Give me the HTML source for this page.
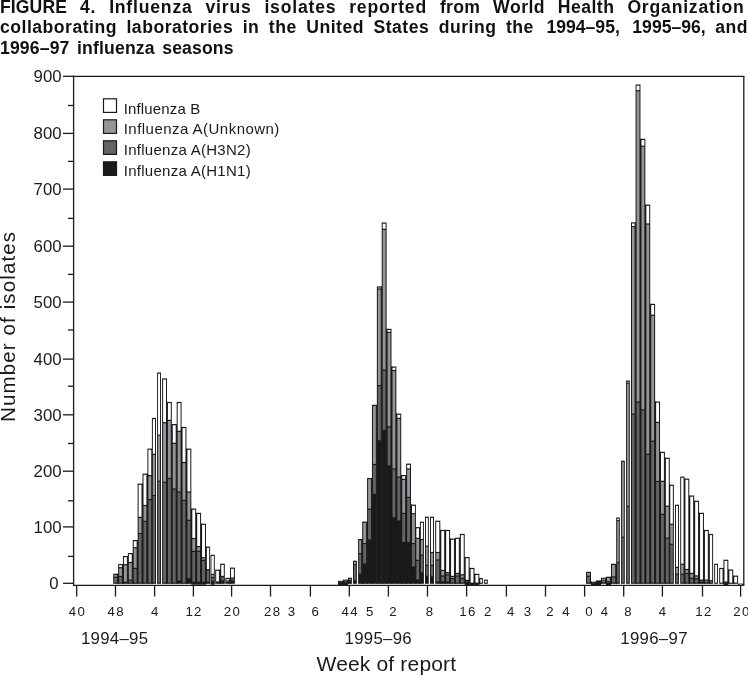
<!DOCTYPE html>
<html lang="en">
<head>
<meta charset="utf-8">
<title>FIGURE 4. Influenza virus isolates</title>
<style>
html,body{margin:0;padding:0;background:#fff;}
body{width:748px;height:676px;overflow:hidden;position:relative;font-family:"Liberation Sans",Arial,Helvetica,sans-serif;color:#1a1a1c;}
.t{position:absolute;left:0;width:748px;font-weight:bold;font-size:17.6px;line-height:20.4px;height:20.4px;white-space:nowrap;color:#111;letter-spacing:0.38px;}
.nm{letter-spacing:0;display:inline-block;margin-left:3px;}
.j{text-align:justify;text-align-last:justify;white-space:normal;}
svg{position:absolute;left:0;top:0;}
svg text{font-family:"Liberation Sans",Arial,Helvetica,sans-serif;fill:#1a1a1c;}
.yl{font-size:16.8px;}
.xl{font-size:12px;letter-spacing:1.25px;}
.sl{font-size:16.8px;letter-spacing:0.3px;}
.wl{font-size:21px;letter-spacing:0.17px;}
.nl{font-size:20.5px;letter-spacing:1.13px;}
.lg{font-size:15px;letter-spacing:0.4px;}
</style>
</head>
<body>
<div class="t j" style="top:-3.2px;letter-spacing:0.8px;width:744.5px;"><span style="letter-spacing:0.1px">FIGURE</span> 4. Influenza virus isolates reported <span style="letter-spacing:0.3px">from</span> <span style="letter-spacing:0.5px">World Health</span> Organization</div>
<div class="t j" style="top:17.3px;width:748px;letter-spacing:0.5px;">collaborating laboratories in the United States during the <span class="nm">1994–95,</span> <span class="nm">1995–96,</span> and</div>
<div class="t" style="top:37.7px;letter-spacing:0.15px;word-spacing:2.5px;">1996–97 influenza seasons</div>
<svg width="748" height="676" viewBox="0 0 748 676">
<g shape-rendering="geometricPrecision">
<rect x="113.21" y="573.70" width="4.88" height="10.10" fill="#1a1a1c"/>
<rect x="117.60" y="573.70" width="1.50" height="10.10" fill="#1a1a1c"/>
<rect x="114.21" y="574.90" width="2.88" height="1.80" fill="#939598"/>
<rect x="114.21" y="577.90" width="2.88" height="4.70" fill="#636466"/>
<rect x="118.10" y="564.10" width="4.88" height="19.70" fill="#1a1a1c"/>
<rect x="122.48" y="564.10" width="1.50" height="19.70" fill="#1a1a1c"/>
<rect x="119.10" y="565.30" width="2.88" height="1.80" fill="#ffffff"/>
<rect x="119.10" y="568.30" width="2.88" height="7.60" fill="#939598"/>
<rect x="119.10" y="577.10" width="2.88" height="5.50" fill="#636466"/>
<rect x="122.98" y="556.00" width="4.88" height="27.80" fill="#1a1a1c"/>
<rect x="127.36" y="556.00" width="1.50" height="27.80" fill="#1a1a1c"/>
<rect x="123.98" y="557.20" width="2.88" height="6.90" fill="#ffffff"/>
<rect x="123.98" y="565.30" width="2.88" height="16.40" fill="#939598"/>
<rect x="127.86" y="553.00" width="4.88" height="30.80" fill="#1a1a1c"/>
<rect x="132.24" y="553.00" width="1.50" height="30.80" fill="#1a1a1c"/>
<rect x="128.86" y="554.20" width="2.88" height="7.70" fill="#ffffff"/>
<rect x="128.86" y="563.10" width="2.88" height="16.50" fill="#939598"/>
<rect x="128.86" y="580.80" width="2.88" height="1.80" fill="#636466"/>
<rect x="132.74" y="540.00" width="4.88" height="43.80" fill="#1a1a1c"/>
<rect x="137.12" y="540.00" width="1.50" height="43.80" fill="#1a1a1c"/>
<rect x="133.74" y="541.20" width="2.88" height="5.90" fill="#ffffff"/>
<rect x="133.74" y="548.30" width="2.88" height="19.50" fill="#939598"/>
<rect x="133.74" y="569.00" width="2.88" height="13.60" fill="#636466"/>
<rect x="137.62" y="483.60" width="4.88" height="100.20" fill="#1a1a1c"/>
<rect x="142.01" y="483.60" width="1.50" height="100.20" fill="#1a1a1c"/>
<rect x="138.62" y="484.80" width="2.88" height="32.00" fill="#ffffff"/>
<rect x="138.62" y="518.00" width="2.88" height="15.00" fill="#939598"/>
<rect x="138.62" y="534.20" width="2.88" height="48.40" fill="#636466"/>
<rect x="142.51" y="473.60" width="4.88" height="110.20" fill="#1a1a1c"/>
<rect x="146.89" y="473.60" width="1.50" height="110.20" fill="#1a1a1c"/>
<rect x="143.51" y="474.80" width="2.88" height="30.10" fill="#ffffff"/>
<rect x="143.51" y="506.10" width="2.88" height="14.70" fill="#939598"/>
<rect x="143.51" y="522.00" width="2.88" height="60.60" fill="#636466"/>
<rect x="147.39" y="448.60" width="4.88" height="135.20" fill="#1a1a1c"/>
<rect x="151.77" y="448.60" width="1.13" height="135.20" fill="#1a1a1c"/>
<rect x="148.39" y="449.80" width="2.88" height="25.20" fill="#ffffff"/>
<rect x="148.39" y="476.20" width="2.88" height="22.80" fill="#939598"/>
<rect x="148.39" y="500.20" width="2.88" height="82.40" fill="#636466"/>
<rect x="151.90" y="417.90" width="4.10" height="165.90" fill="#1a1a1c"/>
<rect x="152.85" y="419.10" width="2.20" height="34.70" fill="#ffffff"/>
<rect x="152.85" y="455.00" width="2.20" height="40.00" fill="#939598"/>
<rect x="152.85" y="496.20" width="2.20" height="86.40" fill="#636466"/>
<rect x="157.10" y="372.50" width="3.90" height="211.30" fill="#1a1a1c"/>
<rect x="158.05" y="373.70" width="2.00" height="60.90" fill="#ffffff"/>
<rect x="158.05" y="435.80" width="2.00" height="44.90" fill="#939598"/>
<rect x="158.05" y="481.90" width="2.00" height="100.70" fill="#636466"/>
<rect x="162.10" y="378.40" width="4.90" height="205.40" fill="#1a1a1c"/>
<rect x="166.50" y="401.90" width="1.42" height="181.90" fill="#1a1a1c"/>
<rect x="163.10" y="379.60" width="2.90" height="42.50" fill="#ffffff"/>
<rect x="163.10" y="423.30" width="2.90" height="58.40" fill="#939598"/>
<rect x="163.10" y="482.90" width="2.90" height="99.70" fill="#636466"/>
<rect x="166.92" y="401.90" width="4.88" height="181.90" fill="#1a1a1c"/>
<rect x="171.30" y="424.00" width="1.50" height="159.80" fill="#1a1a1c"/>
<rect x="167.92" y="403.10" width="2.88" height="16.70" fill="#ffffff"/>
<rect x="167.92" y="421.00" width="2.88" height="56.90" fill="#939598"/>
<rect x="167.92" y="479.10" width="2.88" height="103.50" fill="#636466"/>
<rect x="171.80" y="424.00" width="4.88" height="159.80" fill="#1a1a1c"/>
<rect x="176.18" y="424.00" width="1.50" height="159.80" fill="#1a1a1c"/>
<rect x="172.80" y="425.20" width="2.88" height="17.50" fill="#ffffff"/>
<rect x="172.80" y="443.90" width="2.88" height="44.50" fill="#939598"/>
<rect x="172.80" y="489.60" width="2.88" height="93.00" fill="#636466"/>
<rect x="176.68" y="401.90" width="4.88" height="181.90" fill="#1a1a1c"/>
<rect x="181.06" y="426.90" width="1.50" height="156.90" fill="#1a1a1c"/>
<rect x="177.68" y="403.10" width="2.88" height="27.60" fill="#ffffff"/>
<rect x="177.68" y="431.90" width="2.88" height="59.50" fill="#939598"/>
<rect x="177.68" y="492.60" width="2.88" height="87.80" fill="#636466"/>
<rect x="181.56" y="426.90" width="4.88" height="156.90" fill="#1a1a1c"/>
<rect x="185.94" y="448.60" width="1.50" height="135.20" fill="#1a1a1c"/>
<rect x="182.56" y="428.10" width="2.88" height="33.80" fill="#ffffff"/>
<rect x="182.56" y="463.10" width="2.88" height="36.70" fill="#939598"/>
<rect x="182.56" y="501.00" width="2.88" height="81.60" fill="#636466"/>
<rect x="186.44" y="448.60" width="4.88" height="135.20" fill="#1a1a1c"/>
<rect x="190.83" y="508.60" width="1.50" height="75.20" fill="#1a1a1c"/>
<rect x="187.44" y="449.80" width="2.88" height="41.60" fill="#ffffff"/>
<rect x="187.44" y="492.60" width="2.88" height="27.10" fill="#939598"/>
<rect x="187.44" y="520.90" width="2.88" height="57.30" fill="#636466"/>
<rect x="191.33" y="508.60" width="4.88" height="76.10" fill="#1a1a1c"/>
<rect x="195.71" y="512.80" width="1.50" height="71.00" fill="#1a1a1c"/>
<rect x="192.33" y="509.80" width="2.88" height="28.10" fill="#ffffff"/>
<rect x="192.33" y="539.10" width="2.88" height="11.70" fill="#939598"/>
<rect x="192.33" y="552.00" width="2.88" height="29.70" fill="#636466"/>
<rect x="196.21" y="512.80" width="4.88" height="71.90" fill="#1a1a1c"/>
<rect x="200.59" y="523.70" width="1.50" height="60.10" fill="#1a1a1c"/>
<rect x="197.21" y="514.00" width="2.88" height="32.00" fill="#ffffff"/>
<rect x="197.21" y="547.20" width="2.88" height="3.40" fill="#939598"/>
<rect x="197.21" y="551.80" width="2.88" height="29.90" fill="#636466"/>
<rect x="201.09" y="523.70" width="4.88" height="61.00" fill="#1a1a1c"/>
<rect x="205.47" y="546.60" width="1.43" height="37.20" fill="#1a1a1c"/>
<rect x="202.09" y="524.90" width="2.88" height="32.30" fill="#ffffff"/>
<rect x="202.09" y="558.40" width="2.88" height="1.40" fill="#939598"/>
<rect x="202.09" y="561.00" width="2.88" height="20.70" fill="#636466"/>
<rect x="205.90" y="546.60" width="4.20" height="37.20" fill="#1a1a1c"/>
<rect x="206.85" y="547.80" width="2.30" height="21.30" fill="#ffffff"/>
<rect x="206.85" y="570.30" width="2.30" height="11.40" fill="#636466"/>
<rect x="210.50" y="554.80" width="4.30" height="29.90" fill="#1a1a1c"/>
<rect x="211.45" y="556.00" width="2.40" height="17.80" fill="#ffffff"/>
<rect x="211.45" y="575.00" width="2.40" height="1.90" fill="#939598"/>
<rect x="211.45" y="578.10" width="2.40" height="2.80" fill="#636466"/>
<rect x="215.20" y="569.60" width="4.70" height="14.20" fill="#1a1a1c"/>
<rect x="219.40" y="569.60" width="1.80" height="14.20" fill="#1a1a1c"/>
<rect x="216.20" y="570.80" width="2.70" height="10.60" fill="#ffffff"/>
<rect x="220.20" y="563.70" width="4.60" height="20.10" fill="#1a1a1c"/>
<rect x="221.20" y="564.90" width="2.60" height="10.90" fill="#ffffff"/>
<rect x="221.20" y="577.00" width="2.60" height="3.40" fill="#636466"/>
<rect x="225.30" y="577.90" width="4.50" height="5.90" fill="#1a1a1c"/>
<rect x="229.30" y="577.90" width="1.70" height="5.90" fill="#1a1a1c"/>
<rect x="226.25" y="579.10" width="2.60" height="1.30" fill="#ffffff"/>
<rect x="226.25" y="581.25" width="2.60" height="0.50" fill="#939598"/>
<rect x="230.00" y="567.60" width="4.90" height="16.20" fill="#1a1a1c"/>
<rect x="231.00" y="568.80" width="2.90" height="8.60" fill="#ffffff"/>
<rect x="231.00" y="578.60" width="2.90" height="0.80" fill="#939598"/>
<rect x="231.00" y="580.25" width="2.90" height="0.50" fill="#636466"/>
<rect x="338.00" y="580.80" width="5.00" height="4.70" fill="#1a1a1c"/>
<rect x="342.50" y="580.80" width="1.50" height="3.00" fill="#1a1a1c"/>
<rect x="339.00" y="581.60" width="3.00" height="0.50" fill="#636466"/>
<rect x="343.00" y="579.60" width="4.90" height="5.90" fill="#1a1a1c"/>
<rect x="347.40" y="579.60" width="1.50" height="4.20" fill="#1a1a1c"/>
<rect x="344.00" y="580.60" width="2.90" height="0.50" fill="#939598"/>
<rect x="344.00" y="581.65" width="2.90" height="0.50" fill="#636466"/>
<rect x="347.90" y="577.70" width="4.00" height="6.10" fill="#1a1a1c"/>
<rect x="348.85" y="578.90" width="2.10" height="1.00" fill="#939598"/>
<rect x="348.85" y="581.10" width="2.10" height="0.60" fill="#636466"/>
<rect x="353.00" y="560.70" width="3.90" height="23.10" fill="#1a1a1c"/>
<rect x="353.95" y="561.90" width="2.00" height="2.20" fill="#939598"/>
<rect x="353.95" y="565.30" width="2.00" height="15.10" fill="#636466"/>
<rect x="358.10" y="539.00" width="4.10" height="44.80" fill="#1a1a1c"/>
<rect x="361.70" y="539.00" width="1.50" height="44.80" fill="#1a1a1c"/>
<rect x="359.05" y="540.20" width="2.20" height="12.80" fill="#939598"/>
<rect x="359.05" y="554.20" width="2.20" height="19.50" fill="#636466"/>
<rect x="362.20" y="521.60" width="4.88" height="62.20" fill="#1a1a1c"/>
<rect x="366.58" y="521.60" width="1.50" height="62.20" fill="#1a1a1c"/>
<rect x="363.20" y="522.80" width="2.88" height="20.20" fill="#939598"/>
<rect x="363.20" y="544.20" width="2.88" height="19.20" fill="#636466"/>
<rect x="367.08" y="478.00" width="4.88" height="105.80" fill="#1a1a1c"/>
<rect x="371.46" y="478.00" width="1.50" height="105.80" fill="#1a1a1c"/>
<rect x="368.08" y="479.20" width="2.88" height="29.40" fill="#939598"/>
<rect x="368.08" y="509.80" width="2.88" height="29.60" fill="#636466"/>
<rect x="371.96" y="404.80" width="4.88" height="179.00" fill="#1a1a1c"/>
<rect x="376.34" y="404.80" width="1.50" height="179.00" fill="#1a1a1c"/>
<rect x="372.96" y="406.00" width="2.88" height="57.90" fill="#939598"/>
<rect x="372.96" y="465.10" width="2.88" height="28.70" fill="#636466"/>
<rect x="376.84" y="286.40" width="4.88" height="297.40" fill="#1a1a1c"/>
<rect x="381.22" y="286.40" width="1.50" height="297.40" fill="#1a1a1c"/>
<rect x="377.84" y="287.60" width="2.88" height="0.80" fill="#ffffff"/>
<rect x="377.84" y="289.60" width="2.88" height="95.40" fill="#939598"/>
<rect x="377.84" y="386.20" width="2.88" height="54.10" fill="#636466"/>
<rect x="381.72" y="222.50" width="4.88" height="361.30" fill="#1a1a1c"/>
<rect x="386.11" y="328.80" width="1.50" height="255.00" fill="#1a1a1c"/>
<rect x="382.72" y="223.70" width="2.88" height="5.00" fill="#ffffff"/>
<rect x="382.72" y="229.90" width="2.88" height="139.60" fill="#939598"/>
<rect x="382.72" y="370.70" width="2.88" height="59.20" fill="#636466"/>
<rect x="386.61" y="328.80" width="4.88" height="255.00" fill="#1a1a1c"/>
<rect x="390.99" y="366.50" width="1.50" height="217.30" fill="#1a1a1c"/>
<rect x="387.61" y="330.00" width="2.88" height="1.80" fill="#ffffff"/>
<rect x="387.61" y="333.00" width="2.88" height="93.20" fill="#939598"/>
<rect x="387.61" y="427.40" width="2.88" height="38.00" fill="#636466"/>
<rect x="391.49" y="366.50" width="4.88" height="217.30" fill="#1a1a1c"/>
<rect x="395.87" y="413.60" width="1.50" height="170.20" fill="#1a1a1c"/>
<rect x="392.49" y="367.70" width="2.88" height="2.20" fill="#ffffff"/>
<rect x="392.49" y="371.10" width="2.88" height="97.30" fill="#939598"/>
<rect x="392.49" y="469.60" width="2.88" height="47.60" fill="#636466"/>
<rect x="396.37" y="413.60" width="4.88" height="170.20" fill="#1a1a1c"/>
<rect x="400.75" y="475.00" width="1.50" height="108.80" fill="#1a1a1c"/>
<rect x="397.37" y="414.80" width="2.88" height="3.00" fill="#ffffff"/>
<rect x="397.37" y="419.00" width="2.88" height="57.50" fill="#939598"/>
<rect x="397.37" y="477.70" width="2.88" height="42.70" fill="#636466"/>
<rect x="401.25" y="475.00" width="4.88" height="108.80" fill="#1a1a1c"/>
<rect x="405.63" y="475.00" width="1.50" height="108.80" fill="#1a1a1c"/>
<rect x="402.25" y="476.20" width="2.88" height="2.50" fill="#ffffff"/>
<rect x="402.25" y="479.90" width="2.88" height="32.90" fill="#939598"/>
<rect x="402.25" y="514.00" width="2.88" height="27.90" fill="#636466"/>
<rect x="406.14" y="463.60" width="4.88" height="120.20" fill="#1a1a1c"/>
<rect x="410.52" y="504.60" width="1.50" height="79.20" fill="#1a1a1c"/>
<rect x="407.14" y="464.80" width="2.88" height="3.60" fill="#ffffff"/>
<rect x="407.14" y="469.60" width="2.88" height="27.20" fill="#939598"/>
<rect x="407.14" y="498.00" width="2.88" height="43.90" fill="#636466"/>
<rect x="411.02" y="504.60" width="4.88" height="79.20" fill="#1a1a1c"/>
<rect x="415.40" y="527.10" width="1.00" height="56.70" fill="#1a1a1c"/>
<rect x="412.02" y="505.80" width="2.88" height="7.30" fill="#ffffff"/>
<rect x="412.02" y="514.30" width="2.88" height="28.70" fill="#939598"/>
<rect x="412.02" y="544.20" width="2.88" height="22.20" fill="#636466"/>
<rect x="415.40" y="527.10" width="4.50" height="56.70" fill="#1a1a1c"/>
<rect x="419.40" y="527.10" width="1.50" height="56.70" fill="#1a1a1c"/>
<rect x="416.35" y="528.30" width="2.60" height="9.50" fill="#ffffff"/>
<rect x="416.35" y="539.00" width="2.60" height="20.70" fill="#939598"/>
<rect x="416.35" y="560.90" width="2.60" height="18.50" fill="#636466"/>
<rect x="419.90" y="521.70" width="4.00" height="62.10" fill="#1a1a1c"/>
<rect x="420.85" y="522.90" width="2.10" height="16.10" fill="#ffffff"/>
<rect x="420.85" y="540.20" width="2.10" height="14.40" fill="#939598"/>
<rect x="420.85" y="555.80" width="2.10" height="16.60" fill="#636466"/>
<rect x="425.00" y="516.70" width="3.80" height="67.10" fill="#1a1a1c"/>
<rect x="425.95" y="517.90" width="1.90" height="27.70" fill="#ffffff"/>
<rect x="425.95" y="546.80" width="1.90" height="18.00" fill="#939598"/>
<rect x="425.95" y="566.00" width="1.90" height="9.60" fill="#636466"/>
<rect x="430.00" y="516.70" width="4.00" height="67.10" fill="#1a1a1c"/>
<rect x="430.95" y="517.90" width="2.10" height="34.00" fill="#ffffff"/>
<rect x="430.95" y="553.10" width="2.10" height="11.70" fill="#939598"/>
<rect x="430.95" y="566.00" width="2.10" height="10.30" fill="#636466"/>
<rect x="435.20" y="520.70" width="5.10" height="63.10" fill="#1a1a1c"/>
<rect x="439.80" y="529.90" width="1.51" height="53.90" fill="#1a1a1c"/>
<rect x="436.20" y="521.90" width="3.10" height="30.00" fill="#ffffff"/>
<rect x="436.20" y="553.10" width="3.10" height="6.30" fill="#939598"/>
<rect x="436.20" y="560.60" width="3.10" height="20.80" fill="#636466"/>
<rect x="440.31" y="529.90" width="4.88" height="53.90" fill="#1a1a1c"/>
<rect x="444.69" y="529.90" width="1.50" height="53.90" fill="#1a1a1c"/>
<rect x="441.31" y="531.10" width="2.88" height="38.70" fill="#ffffff"/>
<rect x="441.31" y="571.00" width="2.88" height="4.40" fill="#939598"/>
<rect x="441.31" y="576.60" width="2.88" height="4.80" fill="#636466"/>
<rect x="445.19" y="529.90" width="4.88" height="53.90" fill="#1a1a1c"/>
<rect x="449.57" y="538.60" width="1.50" height="45.20" fill="#1a1a1c"/>
<rect x="446.19" y="531.10" width="2.88" height="40.90" fill="#ffffff"/>
<rect x="446.19" y="573.20" width="2.88" height="1.00" fill="#939598"/>
<rect x="446.19" y="575.40" width="2.88" height="6.00" fill="#636466"/>
<rect x="450.07" y="538.60" width="4.88" height="45.20" fill="#1a1a1c"/>
<rect x="454.45" y="538.60" width="1.50" height="45.20" fill="#1a1a1c"/>
<rect x="451.07" y="539.80" width="2.88" height="36.00" fill="#ffffff"/>
<rect x="451.07" y="577.00" width="2.88" height="1.00" fill="#939598"/>
<rect x="451.07" y="579.20" width="2.88" height="3.40" fill="#636466"/>
<rect x="454.95" y="537.70" width="4.88" height="46.10" fill="#1a1a1c"/>
<rect x="459.34" y="537.70" width="1.50" height="46.10" fill="#1a1a1c"/>
<rect x="455.95" y="538.90" width="2.88" height="34.00" fill="#ffffff"/>
<rect x="455.95" y="574.10" width="2.88" height="1.30" fill="#939598"/>
<rect x="455.95" y="576.60" width="2.88" height="6.00" fill="#636466"/>
<rect x="459.84" y="533.90" width="4.88" height="49.90" fill="#1a1a1c"/>
<rect x="464.22" y="557.00" width="1.50" height="26.80" fill="#1a1a1c"/>
<rect x="460.84" y="535.10" width="2.88" height="39.10" fill="#ffffff"/>
<rect x="460.84" y="575.40" width="2.88" height="2.30" fill="#939598"/>
<rect x="460.84" y="578.90" width="2.88" height="3.70" fill="#636466"/>
<rect x="464.72" y="557.00" width="4.88" height="28.50" fill="#1a1a1c"/>
<rect x="469.10" y="567.90" width="1.50" height="15.90" fill="#1a1a1c"/>
<rect x="465.72" y="558.20" width="2.88" height="21.60" fill="#ffffff"/>
<rect x="465.72" y="581.00" width="2.88" height="0.40" fill="#939598"/>
<rect x="469.60" y="567.90" width="4.88" height="17.60" fill="#1a1a1c"/>
<rect x="473.98" y="573.80" width="1.50" height="10.00" fill="#1a1a1c"/>
<rect x="470.60" y="569.10" width="2.88" height="13.50" fill="#ffffff"/>
<rect x="474.48" y="573.80" width="4.88" height="11.70" fill="#1a1a1c"/>
<rect x="478.86" y="578.00" width="1.44" height="5.80" fill="#1a1a1c"/>
<rect x="475.48" y="575.00" width="2.88" height="7.60" fill="#ffffff"/>
<rect x="479.30" y="578.00" width="3.60" height="5.80" fill="#1a1a1c"/>
<rect x="480.25" y="579.20" width="1.70" height="3.40" fill="#ffffff"/>
<rect x="484.10" y="579.60" width="3.70" height="4.20" fill="#1a1a1c"/>
<rect x="485.05" y="580.80" width="1.80" height="1.80" fill="#ffffff"/>
<rect x="586.00" y="571.80" width="5.00" height="12.00" fill="#1a1a1c"/>
<rect x="590.50" y="581.70" width="1.50" height="2.10" fill="#1a1a1c"/>
<rect x="587.00" y="573.00" width="3.00" height="2.60" fill="#939598"/>
<rect x="587.00" y="576.80" width="3.00" height="5.80" fill="#636466"/>
<rect x="591.00" y="581.70" width="5.00" height="3.70" fill="#1a1a1c"/>
<rect x="595.50" y="581.70" width="1.50" height="2.10" fill="#1a1a1c"/>
<rect x="592.00" y="582.65" width="3.00" height="0.50" fill="#636466"/>
<rect x="596.00" y="580.40" width="5.00" height="5.00" fill="#1a1a1c"/>
<rect x="600.50" y="580.40" width="1.50" height="3.40" fill="#1a1a1c"/>
<rect x="601.00" y="577.70" width="5.00" height="6.10" fill="#1a1a1c"/>
<rect x="605.50" y="577.70" width="1.50" height="6.10" fill="#1a1a1c"/>
<rect x="602.00" y="578.90" width="3.00" height="0.70" fill="#ffffff"/>
<rect x="602.00" y="580.80" width="3.00" height="0.90" fill="#939598"/>
<rect x="602.00" y="582.65" width="3.00" height="0.50" fill="#636466"/>
<rect x="606.00" y="576.70" width="5.00" height="8.70" fill="#1a1a1c"/>
<rect x="610.50" y="576.70" width="1.50" height="7.10" fill="#1a1a1c"/>
<rect x="607.00" y="577.90" width="3.00" height="3.20" fill="#939598"/>
<rect x="607.00" y="582.35" width="3.00" height="0.50" fill="#636466"/>
<rect x="611.00" y="563.80" width="5.20" height="20.00" fill="#1a1a1c"/>
<rect x="615.70" y="563.80" width="1.50" height="20.00" fill="#1a1a1c"/>
<rect x="612.00" y="565.00" width="3.20" height="11.40" fill="#939598"/>
<rect x="612.00" y="577.60" width="3.20" height="5.00" fill="#636466"/>
<rect x="616.20" y="517.50" width="3.60" height="66.30" fill="#1a1a1c"/>
<rect x="617.15" y="518.70" width="1.70" height="1.30" fill="#ffffff"/>
<rect x="617.15" y="521.20" width="1.70" height="40.70" fill="#939598"/>
<rect x="617.15" y="563.10" width="1.70" height="19.50" fill="#636466"/>
<rect x="621.10" y="460.70" width="3.70" height="123.10" fill="#1a1a1c"/>
<rect x="622.05" y="461.90" width="1.80" height="74.80" fill="#939598"/>
<rect x="622.05" y="537.90" width="1.80" height="44.70" fill="#636466"/>
<rect x="626.10" y="380.50" width="3.70" height="203.30" fill="#1a1a1c"/>
<rect x="627.05" y="381.70" width="1.80" height="0.80" fill="#ffffff"/>
<rect x="627.05" y="383.70" width="1.80" height="122.00" fill="#939598"/>
<rect x="627.05" y="506.90" width="1.80" height="75.70" fill="#636466"/>
<rect x="631.00" y="222.30" width="4.60" height="361.50" fill="#1a1a1c"/>
<rect x="635.10" y="222.30" width="1.49" height="361.50" fill="#1a1a1c"/>
<rect x="632.00" y="223.50" width="2.60" height="2.50" fill="#ffffff"/>
<rect x="632.00" y="227.20" width="2.60" height="186.40" fill="#939598"/>
<rect x="632.00" y="414.80" width="2.60" height="167.80" fill="#636466"/>
<rect x="635.59" y="84.50" width="4.88" height="499.30" fill="#1a1a1c"/>
<rect x="639.97" y="138.80" width="1.50" height="445.00" fill="#1a1a1c"/>
<rect x="636.59" y="85.70" width="2.88" height="4.40" fill="#ffffff"/>
<rect x="636.59" y="91.30" width="2.88" height="310.20" fill="#939598"/>
<rect x="636.59" y="402.70" width="2.88" height="179.90" fill="#636466"/>
<rect x="640.47" y="138.80" width="4.88" height="445.00" fill="#1a1a1c"/>
<rect x="644.85" y="204.60" width="1.50" height="379.20" fill="#1a1a1c"/>
<rect x="641.47" y="140.00" width="2.88" height="5.60" fill="#ffffff"/>
<rect x="641.47" y="146.80" width="2.88" height="262.40" fill="#939598"/>
<rect x="641.47" y="410.40" width="2.88" height="172.20" fill="#636466"/>
<rect x="645.35" y="204.60" width="4.88" height="379.20" fill="#1a1a1c"/>
<rect x="649.74" y="303.80" width="1.50" height="280.00" fill="#1a1a1c"/>
<rect x="646.35" y="205.80" width="2.88" height="17.60" fill="#ffffff"/>
<rect x="646.35" y="224.60" width="2.88" height="229.00" fill="#939598"/>
<rect x="646.35" y="454.80" width="2.88" height="127.80" fill="#636466"/>
<rect x="650.23" y="303.80" width="4.88" height="280.00" fill="#1a1a1c"/>
<rect x="654.62" y="401.50" width="1.50" height="182.30" fill="#1a1a1c"/>
<rect x="651.23" y="305.00" width="2.88" height="9.60" fill="#ffffff"/>
<rect x="651.23" y="315.80" width="2.88" height="124.80" fill="#939598"/>
<rect x="651.23" y="441.80" width="2.88" height="140.80" fill="#636466"/>
<rect x="655.12" y="401.50" width="4.88" height="182.30" fill="#1a1a1c"/>
<rect x="659.50" y="451.80" width="1.50" height="132.00" fill="#1a1a1c"/>
<rect x="656.12" y="402.70" width="2.88" height="19.10" fill="#ffffff"/>
<rect x="656.12" y="423.00" width="2.88" height="57.90" fill="#939598"/>
<rect x="656.12" y="482.10" width="2.88" height="100.50" fill="#636466"/>
<rect x="660.00" y="451.80" width="4.88" height="132.00" fill="#1a1a1c"/>
<rect x="664.38" y="457.70" width="1.50" height="126.10" fill="#1a1a1c"/>
<rect x="661.00" y="453.00" width="2.88" height="27.70" fill="#ffffff"/>
<rect x="661.00" y="481.90" width="2.88" height="31.90" fill="#939598"/>
<rect x="661.00" y="515.00" width="2.88" height="67.60" fill="#636466"/>
<rect x="664.88" y="457.70" width="4.88" height="126.10" fill="#1a1a1c"/>
<rect x="669.26" y="484.70" width="1.04" height="99.10" fill="#1a1a1c"/>
<rect x="665.88" y="458.90" width="2.88" height="46.70" fill="#ffffff"/>
<rect x="665.88" y="506.80" width="2.88" height="30.80" fill="#939598"/>
<rect x="665.88" y="538.80" width="2.88" height="43.80" fill="#636466"/>
<rect x="669.30" y="484.70" width="4.55" height="99.10" fill="#1a1a1c"/>
<rect x="670.30" y="485.90" width="2.55" height="37.80" fill="#ffffff"/>
<rect x="670.30" y="524.90" width="2.55" height="18.80" fill="#939598"/>
<rect x="670.30" y="544.90" width="2.55" height="37.70" fill="#636466"/>
<rect x="675.00" y="504.70" width="4.00" height="79.10" fill="#1a1a1c"/>
<rect x="675.95" y="505.90" width="2.10" height="60.90" fill="#ffffff"/>
<rect x="675.95" y="568.00" width="2.10" height="5.70" fill="#939598"/>
<rect x="675.95" y="574.90" width="2.10" height="7.70" fill="#636466"/>
<rect x="680.20" y="476.60" width="4.30" height="107.20" fill="#1a1a1c"/>
<rect x="684.00" y="478.60" width="1.41" height="105.20" fill="#1a1a1c"/>
<rect x="681.15" y="477.80" width="2.40" height="85.90" fill="#ffffff"/>
<rect x="681.15" y="564.90" width="2.40" height="8.80" fill="#939598"/>
<rect x="681.15" y="574.90" width="2.40" height="7.70" fill="#636466"/>
<rect x="684.41" y="478.60" width="4.88" height="105.20" fill="#1a1a1c"/>
<rect x="688.79" y="495.50" width="1.50" height="88.30" fill="#1a1a1c"/>
<rect x="685.41" y="479.80" width="2.88" height="89.10" fill="#ffffff"/>
<rect x="685.41" y="570.10" width="2.88" height="2.70" fill="#939598"/>
<rect x="685.41" y="574.00" width="2.88" height="8.60" fill="#636466"/>
<rect x="689.29" y="495.50" width="4.88" height="88.30" fill="#1a1a1c"/>
<rect x="693.67" y="500.70" width="1.50" height="83.10" fill="#1a1a1c"/>
<rect x="690.29" y="496.70" width="2.88" height="76.10" fill="#ffffff"/>
<rect x="690.29" y="574.00" width="2.88" height="3.60" fill="#939598"/>
<rect x="690.29" y="578.80" width="2.88" height="3.80" fill="#636466"/>
<rect x="694.17" y="500.70" width="4.88" height="83.10" fill="#1a1a1c"/>
<rect x="698.56" y="512.80" width="1.50" height="71.00" fill="#1a1a1c"/>
<rect x="695.17" y="501.90" width="2.88" height="73.40" fill="#ffffff"/>
<rect x="695.17" y="576.50" width="2.88" height="1.60" fill="#939598"/>
<rect x="695.17" y="579.30" width="2.88" height="3.30" fill="#636466"/>
<rect x="699.05" y="512.80" width="4.88" height="71.00" fill="#1a1a1c"/>
<rect x="703.44" y="529.90" width="1.50" height="53.90" fill="#1a1a1c"/>
<rect x="700.05" y="514.00" width="2.88" height="65.50" fill="#ffffff"/>
<rect x="700.05" y="580.70" width="2.88" height="1.00" fill="#636466"/>
<rect x="703.94" y="529.90" width="4.88" height="53.90" fill="#1a1a1c"/>
<rect x="708.32" y="533.90" width="1.58" height="49.90" fill="#1a1a1c"/>
<rect x="704.94" y="531.10" width="2.88" height="48.40" fill="#ffffff"/>
<rect x="704.94" y="580.70" width="2.88" height="1.00" fill="#939598"/>
<rect x="704.94" y="582.65" width="2.88" height="0.50" fill="#636466"/>
<rect x="708.90" y="533.90" width="4.20" height="49.90" fill="#1a1a1c"/>
<rect x="709.85" y="535.10" width="2.30" height="45.00" fill="#ffffff"/>
<rect x="709.85" y="581.30" width="2.30" height="1.30" fill="#636466"/>
<rect x="714.20" y="563.70" width="3.80" height="20.10" fill="#1a1a1c"/>
<rect x="715.15" y="564.90" width="1.90" height="17.70" fill="#ffffff"/>
<rect x="719.20" y="567.90" width="4.30" height="15.90" fill="#1a1a1c"/>
<rect x="723.00" y="567.90" width="1.46" height="15.90" fill="#1a1a1c"/>
<rect x="720.15" y="569.10" width="2.40" height="13.50" fill="#ffffff"/>
<rect x="723.46" y="559.70" width="4.88" height="25.80" fill="#1a1a1c"/>
<rect x="727.85" y="569.50" width="1.50" height="14.30" fill="#1a1a1c"/>
<rect x="724.46" y="560.90" width="2.88" height="20.50" fill="#ffffff"/>
<rect x="724.46" y="582.50" width="2.88" height="0.50" fill="#636466"/>
<rect x="728.35" y="569.50" width="4.88" height="14.30" fill="#1a1a1c"/>
<rect x="732.73" y="575.60" width="1.50" height="8.20" fill="#1a1a1c"/>
<rect x="729.35" y="570.70" width="2.88" height="11.90" fill="#ffffff"/>
<rect x="733.23" y="575.60" width="4.88" height="8.20" fill="#1a1a1c"/>
<rect x="734.23" y="576.80" width="2.88" height="5.80" fill="#ffffff"/>
<rect x="738.10" y="583.60" width="5.50" height="2.30" fill="#1a1a1c"/>
<rect x="739.40" y="584.30" width="2.70" height="0.75" fill="#ffffff"/>
</g>
<g>
<line x1="73.60" y1="75.65" x2="73.60" y2="586.05" stroke="#1a1a1c" stroke-width="1.3"/>
<line x1="73.60" y1="76.30" x2="744.45" y2="76.30" stroke="#1a1a1c" stroke-width="1.3"/>
<line x1="743.80" y1="76.30" x2="743.80" y2="586.05" stroke="#1a1a1c" stroke-width="1.3"/>
<line x1="73.60" y1="585.40" x2="743.80" y2="585.40" stroke="#1a1a1c" stroke-width="1.3"/>
<line x1="63.00" y1="583.30" x2="73.60" y2="583.30" stroke="#1a1a1c" stroke-width="1.3"/>
<line x1="63.00" y1="526.90" x2="73.60" y2="526.90" stroke="#1a1a1c" stroke-width="1.3"/>
<line x1="63.00" y1="471.20" x2="73.60" y2="471.20" stroke="#1a1a1c" stroke-width="1.3"/>
<line x1="63.00" y1="414.80" x2="73.60" y2="414.80" stroke="#1a1a1c" stroke-width="1.3"/>
<line x1="63.00" y1="359.10" x2="73.60" y2="359.10" stroke="#1a1a1c" stroke-width="1.3"/>
<line x1="63.00" y1="302.10" x2="73.60" y2="302.10" stroke="#1a1a1c" stroke-width="1.3"/>
<line x1="63.00" y1="246.20" x2="73.60" y2="246.20" stroke="#1a1a1c" stroke-width="1.3"/>
<line x1="63.00" y1="189.10" x2="73.60" y2="189.10" stroke="#1a1a1c" stroke-width="1.3"/>
<line x1="63.00" y1="133.40" x2="73.60" y2="133.40" stroke="#1a1a1c" stroke-width="1.3"/>
<line x1="63.00" y1="76.30" x2="73.60" y2="76.30" stroke="#1a1a1c" stroke-width="1.3"/>
<line x1="68.00" y1="556.40" x2="73.60" y2="556.40" stroke="#1a1a1c" stroke-width="1.3"/>
<line x1="68.00" y1="500.80" x2="73.60" y2="500.80" stroke="#1a1a1c" stroke-width="1.3"/>
<line x1="68.00" y1="443.50" x2="73.60" y2="443.50" stroke="#1a1a1c" stroke-width="1.3"/>
<line x1="68.00" y1="386.20" x2="73.60" y2="386.20" stroke="#1a1a1c" stroke-width="1.3"/>
<line x1="68.00" y1="330.00" x2="73.60" y2="330.00" stroke="#1a1a1c" stroke-width="1.3"/>
<line x1="68.00" y1="274.40" x2="73.60" y2="274.40" stroke="#1a1a1c" stroke-width="1.3"/>
<line x1="68.00" y1="218.40" x2="73.60" y2="218.40" stroke="#1a1a1c" stroke-width="1.3"/>
<line x1="68.00" y1="161.40" x2="73.60" y2="161.40" stroke="#1a1a1c" stroke-width="1.3"/>
<line x1="68.00" y1="105.50" x2="73.60" y2="105.50" stroke="#1a1a1c" stroke-width="1.3"/>
<line x1="76.70" y1="585.40" x2="76.70" y2="596.60" stroke="#1a1a1c" stroke-width="1.3"/>
<line x1="115.50" y1="585.40" x2="115.50" y2="596.60" stroke="#1a1a1c" stroke-width="1.3"/>
<line x1="154.60" y1="585.40" x2="154.60" y2="596.60" stroke="#1a1a1c" stroke-width="1.3"/>
<line x1="193.40" y1="585.40" x2="193.40" y2="596.60" stroke="#1a1a1c" stroke-width="1.3"/>
<line x1="231.60" y1="585.40" x2="231.60" y2="596.60" stroke="#1a1a1c" stroke-width="1.3"/>
<line x1="270.50" y1="585.40" x2="270.50" y2="596.60" stroke="#1a1a1c" stroke-width="1.3"/>
<line x1="310.40" y1="585.40" x2="310.40" y2="596.60" stroke="#1a1a1c" stroke-width="1.3"/>
<line x1="349.30" y1="585.40" x2="349.30" y2="596.60" stroke="#1a1a1c" stroke-width="1.3"/>
<line x1="388.40" y1="585.40" x2="388.40" y2="596.60" stroke="#1a1a1c" stroke-width="1.3"/>
<line x1="427.50" y1="585.40" x2="427.50" y2="596.60" stroke="#1a1a1c" stroke-width="1.3"/>
<line x1="466.60" y1="585.40" x2="466.60" y2="596.60" stroke="#1a1a1c" stroke-width="1.3"/>
<line x1="506.40" y1="585.40" x2="506.40" y2="596.60" stroke="#1a1a1c" stroke-width="1.3"/>
<line x1="545.50" y1="585.40" x2="545.50" y2="596.60" stroke="#1a1a1c" stroke-width="1.3"/>
<line x1="584.60" y1="585.40" x2="584.60" y2="596.60" stroke="#1a1a1c" stroke-width="1.3"/>
<line x1="623.70" y1="585.40" x2="623.70" y2="596.60" stroke="#1a1a1c" stroke-width="1.3"/>
<line x1="662.40" y1="585.40" x2="662.40" y2="596.60" stroke="#1a1a1c" stroke-width="1.3"/>
<line x1="702.50" y1="585.40" x2="702.50" y2="596.60" stroke="#1a1a1c" stroke-width="1.3"/>
<line x1="740.60" y1="585.40" x2="740.60" y2="596.60" stroke="#1a1a1c" stroke-width="1.3"/>
</g>
<g>
<text x="58.7" y="589.0" text-anchor="end" class="yl">0</text>
<text x="61.6" y="532.6" text-anchor="end" class="yl">100</text>
<text x="61.6" y="476.9" text-anchor="end" class="yl">200</text>
<text x="61.6" y="420.5" text-anchor="end" class="yl">300</text>
<text x="61.6" y="364.8" text-anchor="end" class="yl">400</text>
<text x="61.6" y="307.8" text-anchor="end" class="yl">500</text>
<text x="61.6" y="251.9" text-anchor="end" class="yl">600</text>
<text x="61.6" y="194.8" text-anchor="end" class="yl">700</text>
<text x="61.6" y="139.1" text-anchor="end" class="yl">800</text>
<text x="61.6" y="82.1" text-anchor="end" class="yl">900</text>
<text transform="translate(77.4,615.6) scale(1.1,1)" text-anchor="middle" class="xl">40</text>
<text transform="translate(116.2,615.6) scale(1.1,1)" text-anchor="middle" class="xl">48</text>
<text transform="translate(155.3,615.6) scale(1.1,1)" text-anchor="middle" class="xl">4</text>
<text transform="translate(194.1,615.6) scale(1.1,1)" text-anchor="middle" class="xl">12</text>
<text transform="translate(232.5,615.6) scale(1.1,1)" text-anchor="middle" class="xl">20</text>
<text transform="translate(272.7,615.6) scale(1.1,1)" text-anchor="middle" class="xl">28</text>
<text transform="translate(292.1,615.6) scale(1.1,1)" text-anchor="middle" class="xl">3</text>
<text transform="translate(315.9,615.6) scale(1.1,1)" text-anchor="middle" class="xl">6</text>
<text transform="translate(350.3,615.6) scale(1.1,1)" text-anchor="middle" class="xl">44</text>
<text transform="translate(370.4,615.6) scale(1.1,1)" text-anchor="middle" class="xl">5</text>
<text transform="translate(393.7,615.6) scale(1.1,1)" text-anchor="middle" class="xl">2</text>
<text transform="translate(430.2,615.6) scale(1.1,1)" text-anchor="middle" class="xl">8</text>
<text transform="translate(467.9,615.6) scale(1.1,1)" text-anchor="middle" class="xl">16</text>
<text transform="translate(488.3,615.6) scale(1.1,1)" text-anchor="middle" class="xl">2</text>
<text transform="translate(511.4,615.6) scale(1.1,1)" text-anchor="middle" class="xl">4</text>
<text transform="translate(528.1,615.6) scale(1.1,1)" text-anchor="middle" class="xl">3</text>
<text transform="translate(550.5,615.6) scale(1.1,1)" text-anchor="middle" class="xl">2</text>
<text transform="translate(566.5,615.6) scale(1.1,1)" text-anchor="middle" class="xl">4</text>
<text transform="translate(589.6,615.6) scale(1.1,1)" text-anchor="middle" class="xl">0</text>
<text transform="translate(605.0,615.6) scale(1.1,1)" text-anchor="middle" class="xl">4</text>
<text transform="translate(628.7,615.6) scale(1.1,1)" text-anchor="middle" class="xl">8</text>
<text transform="translate(663.1,615.6) scale(1.1,1)" text-anchor="middle" class="xl">4</text>
<text transform="translate(703.9,615.6) scale(1.1,1)" text-anchor="middle" class="xl">12</text>
<text transform="translate(742.0,615.6) scale(1.1,1)" text-anchor="middle" class="xl">20</text>
<text x="114.65" y="644.3" text-anchor="middle" class="sl">1994–95</text>
<text x="378.25" y="644.3" text-anchor="middle" class="sl">1995–96</text>
<text x="654.05" y="644.3" text-anchor="middle" class="sl">1996–97</text>
<text x="386.4" y="671.1" text-anchor="middle" class="wl">Week of report</text>
<text transform="translate(15.2,326.4) rotate(-90)" text-anchor="middle" class="nl">Number of isolates</text>
<rect x="103.5" y="98.8" width="13.0" height="13.6" fill="#ffffff" stroke="#1a1a1c" stroke-width="1.2"/>
<text x="123.7" y="113.5" class="lg" style="letter-spacing:0.16px">Influenza B</text>
<rect x="103.5" y="119.8" width="13.0" height="13.6" fill="#939598" stroke="#1a1a1c" stroke-width="1.2"/>
<text x="123.7" y="134.3" class="lg" style="letter-spacing:0.47px">Influenza A(Unknown)</text>
<rect x="103.5" y="140.8" width="13.0" height="13.6" fill="#636466" stroke="#1a1a1c" stroke-width="1.2"/>
<text x="123.7" y="155.2" class="lg" style="letter-spacing:0.275px">Influenza A(H3N2)</text>
<rect x="103.5" y="161.8" width="13.0" height="13.6" fill="#1a1a1c" stroke="#1a1a1c" stroke-width="1.2"/>
<text x="123.7" y="176.1" class="lg" style="letter-spacing:0.275px">Influenza A(H1N1)</text>
</g>
</svg>
</body>
</html>
